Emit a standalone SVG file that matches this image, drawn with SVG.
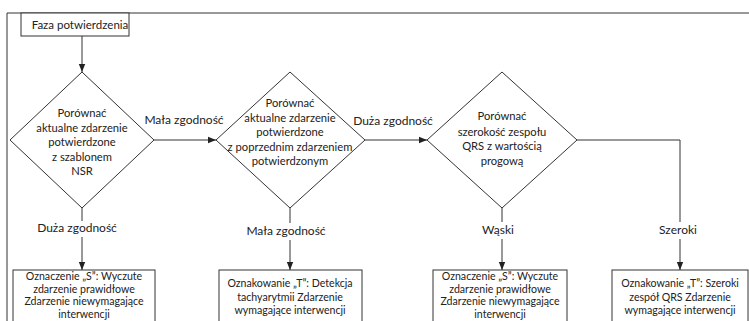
<svg xmlns="http://www.w3.org/2000/svg" width="749" height="321" viewBox="0 0 749 321">
<style>
.shape{fill:#fff;stroke:#333;stroke-width:1}
.line{fill:none;stroke:#333;stroke-width:1}
text{font-family:Lato,"Liberation Sans",Arial,sans-serif;font-size:12px;fill:#222;text-anchor:middle}
.dt{font-size:11.2px}
.bt{font-size:10.6px}
</style>
<defs>
<marker id="arr" viewBox="0 0 10 10" refX="10" refY="5" markerWidth="8" markerHeight="8" markerUnits="userSpaceOnUse" orient="auto">
<path d="M0,1 L10,5 L0,9 Z" fill="#222"/>
</marker>
</defs>
<rect width="749" height="321" fill="#fff"/>
<path class="line" d="M7,321 V13 H749"/>
<g id="start">
<rect class="shape" x="21" y="13" width="108" height="23"/>
<text x="80" y="29" style="font-size:11.5px">Faza potwierdzenia</text>
</g>
<g id="d1" class="dt">
<polygon class="shape" points="82,72 154,140 82,208 10,140"/>
<text class="dt" x="82" y="117">Porównać</text>
<text class="dt" x="82" y="131.5">aktualne zdarzenie</text>
<text class="dt" x="82" y="146">potwierdzone</text>
<text class="dt" x="82" y="160.5">z szablonem</text>
<text class="dt" x="82" y="175">NSR</text>
</g>
<g id="d2">
<polygon class="shape" points="290,72 365,140 290,208 216,140"/>
<text class="dt" x="290" y="107">Porównać</text>
<text class="dt" x="290" y="121.5">aktualne zdarzenie</text>
<text class="dt" x="290" y="136">potwierdzone</text>
<text class="dt" x="290" y="150.5">z poprzednim zdarzeniem</text>
<text class="dt" x="290" y="165">potwierdzonym</text>
</g>
<g id="d3">
<polygon class="shape" points="502,72 577,140 502,208 427,140"/>
<text class="dt" x="502" y="120">Porównać</text>
<text class="dt" x="502" y="135.5">szerokość zespołu</text>
<text class="dt" x="502" y="150">QRS z wartością</text>
<text class="dt" x="502" y="164.5">progową</text>
</g>
<g id="b1">
<rect class="shape" x="13" y="270" width="142" height="60"/>
<text class="bt" x="84" y="280">Oznaczenie „S”: Wyczute</text>
<text class="bt" x="84" y="292.5">zdarzenie prawidłowe</text>
<text class="bt" x="84" y="305">Zdarzenie niewymagające</text>
<text class="bt" x="84" y="317.5">interwencji</text>
</g>
<g id="b2">
<rect class="shape" x="219" y="270" width="143" height="60"/>
<text class="bt" x="290" y="287">Oznakowanie „T”: Detekcja</text>
<text class="bt" x="290" y="300.5">tachyarytmii Zdarzenie</text>
<text class="bt" x="290" y="314">wymagające interwencji</text>
</g>
<g id="b3">
<rect class="shape" x="433" y="270" width="134" height="60"/>
<text class="bt" x="500" y="280">Oznaczenie „S”: Wyczute</text>
<text class="bt" x="500" y="292.5">zdarzenie prawidłowe</text>
<text class="bt" x="500" y="305">Zdarzenie niewymagające</text>
<text class="bt" x="500" y="317.5">interwencji</text>
</g>
<g id="b4">
<rect class="shape" x="612" y="270" width="136" height="60"/>
<text class="bt" x="680" y="287">Oznakowanie „T”: Szeroki</text>
<text class="bt" x="680" y="300.5">zespół QRS Zdarzenie</text>
<text class="bt" x="680" y="314">wymagające interwencji</text>
</g>
<g id="connectors">
<path class="line" d="M82,36 V72" marker-end="url(#arr)"/>
<path class="line" d="M154,140 H216" marker-end="url(#arr)"/>
<path class="line" d="M365,140 H427" marker-end="url(#arr)"/>
<path class="line" d="M82,208 V221 M82,237 V270" marker-end="url(#arr)"/>
<path class="line" d="M290,208 V223 M290,240 V270" marker-end="url(#arr)"/>
<path class="line" d="M502,208 V222 M502,239 V270" marker-end="url(#arr)"/>
<path class="line" d="M577,140 H680 V222 M680,239 V270" marker-end="url(#arr)"/>
<text x="184" y="124">Mała zgodność</text>
<text x="393" y="125">Duża zgodność</text>
<text x="77" y="232">Duża zgodność</text>
<text x="286" y="235">Mała zgodność</text>
<text x="498" y="234">Wąski</text>
<text x="678" y="234">Szeroki</text>
</g>
</svg>
